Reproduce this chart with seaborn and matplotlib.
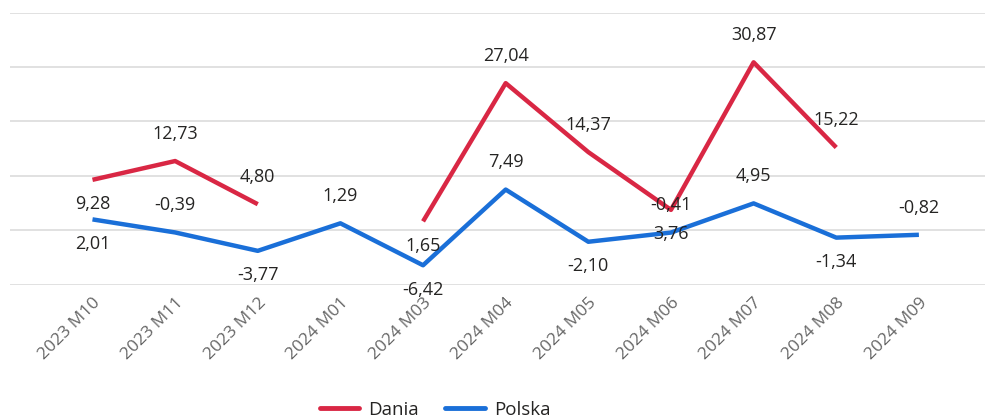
import numpy as np
import pandas as pd
import matplotlib.pyplot as plt
import seaborn as sns

# Monthly values (gaps = no data)
months = ['2023 M10', '2023 M11', '2023 M12', '2024 M01', '2024 M03', '2024 M04',
          '2024 M05', '2024 M06', '2024 M07', '2024 M08', '2024 M09']
dania = [9.28, 12.73, 4.80, np.nan, 1.65, 27.04, 14.37, 3.76, 30.87, 15.22, np.nan]
polska = [2.01, -0.39, -3.77, 1.29, -6.42, 7.49, -2.10, -0.41, 4.95, -1.34, -0.82]

# label placement per point: 'a' above, 'b' below
dania_pos = ['b', 'a', 'a', 'a', 'b', 'a', 'a', 'b', 'a', 'a', 'a']
polska_pos = ['b', 'a', 'b', 'a', 'b', 'a', 'b', 'a', 'a', 'b', 'a']

colors = {'Dania': '#D92744', 'Polska': '#1A6FD8'}

# Long-form table, with a segment id so gaps break the line
rows = []
for name, vals in [('Dania', dania), ('Polska', polska)]:
    seg = 0
    for i, v in enumerate(vals):
        if np.isnan(v):
            seg += 1
            continue
        rows.append({'x': i, 'value': v, 'kraj': name, 'seg': f'{name}{seg}'})
df = pd.DataFrame(rows)

sns.set_theme(style='white')
plt.rcParams['font.family'] = ['Open Sans', 'DejaVu Sans']

fig = plt.figure(figsize=(9.85, 4.2), dpi=100)
ax = fig.add_axes([0.01, 0.322, 0.99, 0.648])

sns.lineplot(data=df, x='x', y='value', hue='kraj', units='seg', estimator=None,
             palette=colors, linewidth=3.2, ax=ax, legend=False,
             solid_capstyle='butt', zorder=3)

ax.set_ylim(-10, 40)
ax.set_xlim(-1.0, 10.8)
ax.set_yticks([-10, 0, 10, 20, 30, 40])
ax.yaxis.grid(True, color='#e1e1e1', linewidth=1.4)
ax.tick_params(axis='y', left=False, labelleft=False)
for s in ax.spines.values():
    s.set_visible(False)

ax.set_xticks(range(len(months)))
ax.set_xticklabels(months, rotation=45, ha='right', rotation_mode='anchor',
                   fontsize=12.5, color='#666666')
ax.tick_params(axis='x', length=0, pad=7)
ax.set_xlabel('')
ax.set_ylabel('')

def fmt(v):
    return f'{v:.2f}'.replace('.', ',')

for vals, pos in [(dania, dania_pos), (polska, polska_pos)]:
    for i, (v, p) in enumerate(zip(vals, pos)):
        if np.isnan(v):
            continue
        dy = 19.5 if p == 'a' else -17.5
        ax.annotate(fmt(v), (i, v), xytext=(0, dy), textcoords='offset points',
                    ha='center', va='center', fontsize=13, color='#252423',
                    zorder=4, annotation_clip=False)

handles = [plt.Line2D([], [], color=colors[k], linewidth=3.5) for k in ['Dania', 'Polska']]
fig.legend(handles, ['Dania', 'Polska'], loc='center', bbox_to_anchor=(435 / 985, 1 - 410 / 420),
           ncol=2, frameon=False, fontsize=13.5, handlelength=2.1, handletextpad=0.5,
           columnspacing=1.4, labelcolor='#252423')

fig.savefig('out.png', dpi=100)
